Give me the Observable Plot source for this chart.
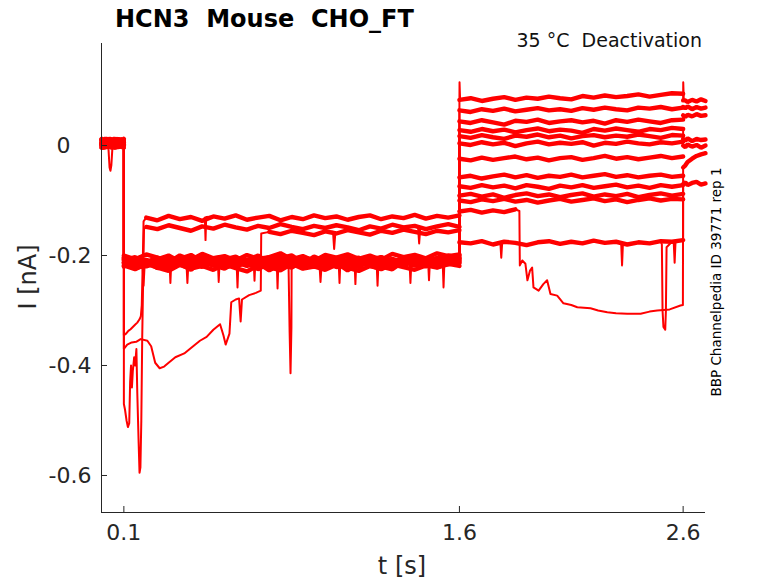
<!DOCTYPE html>
<html><head><meta charset="utf-8">
<script src="https://cdn.jsdelivr.net/npm/d3@7"></script>
<script src="https://cdn.jsdelivr.net/npm/@observablehq/plot@0.6"></script>
<style>body{margin:0;background:#fff}svg{display:block}</style>
</head><body><div id="chart"></div>
<script>
const xTicks=[0.1,1.6,2.6];
const yTicks=[0,-0.2,-0.4,-0.6];
const sweepNames=["s1","s2","s3","s4","s5","s6","s7","s8","s9","s10","X","Z","C"];
const tPre=[0,0.01,0.02,0.03,0.036,0.04,0.044,0.05,0.06,0.07,0.08,0.09,0.1];
const tAct=[0.1,0.15,0.2,0.25,0.3,0.35,0.4,0.45,0.5,0.55,0.6,0.65,0.7,0.75,0.8,0.85,0.9,0.95,1.0,1.05,1.1,1.15,1.2,1.25,1.3,1.35,1.4,1.45,1.5,1.55,1.6];
const tTest=[1.6,1.65,1.7,1.75,1.8,1.85,1.9,1.95,2.0,2.05,2.1,2.15,2.2,2.25,2.3,2.35,2.4,2.45,2.5,2.55,2.6];
const tTail=[2.6,2.61,2.62,2.64,2.66,2.68,2.7];

const preI=[
[0.004,0.012,-0.004,0.006,0.013,0.001,0.009,-0.005,0.01,0.003,0.012,-0.003,0.005],
[-0.004,0.005,0.012,0.0,0.004,0.011,-0.006,0.006,0.001,0.01,-0.004,0.009,0.003],
[0.01,0.001,0.006,0.014,-0.004,0.005,0.012,0.002,-0.006,0.006,0.013,0.003,0.0],
[0.001,-0.006,0.009,0.003,0.011,-0.003,0.004,0.013,0.005,-0.005,0.004,0.011,0.006],
[0.006,0.013,0.002,-0.005,0.007,0.014,0.001,0.005,0.012,-0.002,0.006,0.002,0.01],
[0.003,-0.002,0.011,0.005,-0.004,0.006,0.01,-0.003,0.004,0.014,0.002,0.005,-0.004],
[-0.003,0.009,0.003,0.012,0.004,-0.005,0.006,0.011,0.0,0.005,0.01,-0.005,0.004],
[0.005,0.002,0.013,-0.003,0.01,0.003,-0.004,0.007,0.014,0.002,-0.003,0.006,0.012],
[0.012,0.004,-0.005,0.01,0.002,0.007,0.013,-0.002,0.006,-0.004,0.011,0.004,0.001],
[0.002,0.01,0.005,-0.004,0.012,0.004,-0.002,0.011,-0.005,0.007,0.003,0.013,0.005],
[0.009,-0.003,0.004,0.011,0.003,0.012,0.005,0.001,0.009,0.004,-0.004,0.01,0.002],
[0.0,0.006,0.014,0.002,null,null,null,0.004,0.011,0.001,0.006,0.012,0.003],
[0.011,0.003,-0.002,0.007,0.014,0.002,-0.005,0.006,0.003,0.012,0.005,-0.002,0.007]
];

const actI=[
[-0.205,-0.214,-0.208,-0.219,-0.206,-0.211,-0.203,-0.216,-0.209,-0.213,-0.204,-0.218,-0.207,-0.212,-0.201,-0.215,-0.209,-0.206,-0.217,-0.204,-0.211,-0.208,-0.214,-0.203,-0.21,-0.207,-0.215,-0.205,-0.209,-0.202,-0.206],
[-0.212,-0.219,-0.21,-0.223,-0.214,-0.207,-0.22,-0.213,-0.218,-0.209,-0.221,-0.212,-0.216,-0.208,-0.222,-0.211,-0.217,-0.213,-0.209,-0.219,-0.214,-0.221,-0.21,-0.216,-0.212,-0.218,-0.209,-0.214,-0.207,-0.212,-0.208],
[-0.2,-0.207,-0.198,-0.204,-0.212,-0.2,-0.208,-0.197,-0.205,-0.201,-0.209,-0.199,-0.206,-0.203,-0.196,-0.207,-0.201,-0.21,-0.199,-0.204,-0.198,-0.206,-0.2,-0.208,-0.197,-0.203,-0.199,-0.205,-0.196,-0.201,-0.198],
[-0.218,-0.225,-0.215,-0.222,-0.228,-0.217,-0.224,-0.219,-0.226,-0.216,-0.223,-0.229,-0.218,-0.221,-0.227,-0.215,-0.224,-0.22,-0.226,-0.217,-0.222,-0.228,-0.219,-0.225,-0.216,-0.221,-0.226,-0.218,-0.222,-0.215,-0.219],
[-0.209,-0.203,-0.213,-0.207,-0.2,-0.211,-0.215,-0.205,-0.21,-0.217,-0.204,-0.209,-0.2,-0.214,-0.208,-0.212,-0.203,-0.209,-0.215,-0.206,-0.201,-0.212,-0.207,-0.203,-0.213,-0.209,-0.205,-0.211,-0.204,-0.208,-0.2],
[-0.215,-0.21,-0.22,-0.213,-0.224,-0.211,-0.218,-0.214,-0.209,-0.222,-0.216,-0.212,-0.225,-0.213,-0.219,-0.21,-0.223,-0.215,-0.212,-0.221,-0.217,-0.211,-0.219,-0.224,-0.213,-0.216,-0.211,-0.22,-0.213,-0.209,-0.214],
[-0.203,-0.209,-0.216,-0.204,-0.21,-0.206,-0.199,-0.211,-0.215,-0.207,-0.202,-0.213,-0.209,-0.216,-0.205,-0.2,-0.212,-0.207,-0.203,-0.214,-0.209,-0.216,-0.204,-0.211,-0.206,-0.213,-0.201,-0.208,-0.212,-0.205,-0.203],
[-0.22,-0.213,-0.208,-0.217,-0.221,-0.215,-0.226,-0.209,-0.218,-0.224,-0.212,-0.219,-0.214,-0.227,-0.216,-0.222,-0.21,-0.219,-0.223,-0.213,-0.227,-0.215,-0.21,-0.22,-0.225,-0.211,-0.218,-0.214,-0.221,-0.216,-0.212],
[-0.207,-0.216,-0.211,-0.205,-0.219,-0.208,-0.213,-0.221,-0.206,-0.214,-0.218,-0.207,-0.211,-0.203,-0.217,-0.212,-0.208,-0.22,-0.213,-0.206,-0.215,-0.21,-0.219,-0.207,-0.212,-0.204,-0.216,-0.21,-0.215,-0.206,-0.21],
[-0.213,-0.206,-0.218,-0.212,-0.207,-0.216,-0.21,-0.203,-0.214,-0.209,-0.216,-0.211,-0.205,-0.219,-0.21,-0.207,-0.215,-0.202,-0.211,-0.217,-0.208,-0.204,-0.213,-0.209,-0.218,-0.206,-0.21,-0.215,-0.208,-0.2,-0.205],
[null,null,-0.131,-0.136,-0.128,-0.134,-0.13,-0.137,-0.129,-0.133,-0.127,-0.135,-0.131,-0.128,-0.136,-0.13,-0.134,-0.127,-0.132,-0.129,-0.135,-0.13,-0.127,-0.134,-0.129,-0.132,-0.126,-0.133,-0.128,-0.131,-0.127],
[null,null,-0.148,-0.152,-0.145,-0.15,-0.155,-0.147,-0.151,-0.144,-0.149,-0.153,-0.146,-0.15,-0.143,-0.148,-0.152,-0.146,-0.15,-0.145,-0.149,-0.154,-0.147,-0.151,-0.144,-0.149,-0.146,-0.152,-0.147,-0.143,-0.148],
[null,null,null,null,null,null,null,null,null,null,null,null,null,-0.157,-0.161,-0.155,-0.159,-0.163,-0.156,-0.16,-0.154,-0.158,-0.162,-0.155,-0.159,-0.153,-0.157,-0.161,-0.155,-0.158,-0.154]
];

const testI=[
[0.083,0.086,0.081,0.085,0.088,0.083,0.087,0.085,0.089,0.086,0.084,0.09,0.087,0.091,0.088,0.09,0.093,0.089,0.092,0.095,0.094],
[0.064,0.061,0.066,0.063,0.067,0.062,0.065,0.068,0.064,0.066,0.063,0.068,0.065,0.069,0.066,0.064,0.069,0.067,0.07,0.066,0.069],
[0.044,0.041,0.046,0.042,0.038,0.045,0.043,0.047,0.041,0.044,0.046,0.042,0.045,0.04,0.046,0.043,0.047,0.044,0.041,0.046,0.047],
[0.028,0.025,0.03,0.026,0.029,0.024,0.028,0.031,0.026,0.029,0.027,0.023,0.03,0.027,0.031,0.028,0.025,0.03,0.028,0.032,0.03],
[0.017,0.014,0.019,0.015,0.012,0.018,0.016,0.02,0.015,0.018,0.013,0.017,0.019,0.015,0.018,0.016,0.02,0.017,0.014,0.019,0.018],
[0.004,0.001,0.006,0.002,0.005,-0.001,0.004,0.007,0.002,0.005,0.003,0.006,0.0,0.005,0.003,0.007,0.004,0.002,0.006,0.004,0.007],
[-0.024,-0.027,-0.022,-0.026,-0.023,-0.02,-0.025,-0.022,-0.027,-0.023,-0.021,-0.026,-0.023,-0.019,-0.024,-0.021,-0.025,-0.022,-0.019,-0.023,-0.02],
[-0.058,-0.055,-0.06,-0.056,-0.053,-0.058,-0.054,-0.059,-0.055,-0.057,-0.053,-0.058,-0.055,-0.052,-0.057,-0.054,-0.058,-0.055,-0.053,-0.057,-0.055],
[-0.074,-0.077,-0.072,-0.076,-0.073,-0.078,-0.072,-0.075,-0.079,-0.073,-0.076,-0.072,-0.077,-0.074,-0.071,-0.076,-0.073,-0.077,-0.072,-0.075,-0.072],
[-0.091,-0.088,-0.093,-0.089,-0.095,-0.09,-0.087,-0.092,-0.089,-0.094,-0.09,-0.087,-0.093,-0.089,-0.092,-0.088,-0.094,-0.09,-0.087,-0.091,-0.088],
[-0.12,-0.117,-0.122,-0.118,-0.121,-0.116,null,null,null,null,null,null,null,null,null,null,null,null,null,null,null],
[-0.176,-0.178,-0.174,-0.18,-0.175,-0.177,-0.181,-0.176,-0.174,-0.179,-0.175,-0.178,-0.173,-0.177,-0.175,-0.18,-0.176,-0.178,-0.174,-0.175,-0.172],
[-0.1,-0.103,-0.098,-0.101,-0.097,-0.102,-0.099,-0.104,-0.1,-0.097,-0.102,-0.099,-0.096,-0.101,-0.098,-0.103,-0.099,-0.096,-0.1,-0.097,-0.098]
];

const tailI=[
[0.082,0.082,0.079,0.083,0.08,0.084,0.081],
[0.07,0.068,0.071,0.066,0.07,0.067,0.069],
[0.055,0.052,0.056,0.053,0.057,0.054,0.055],
[0.012,0.009,0.013,0.008,0.012,0.01,0.011],
[0.0,-0.003,0.002,-0.002,0.001,-0.004,0.0],
null,null,null,null,null,
[-0.04,-0.036,-0.03,-0.024,-0.019,-0.016,-0.014],
[-0.07,-0.067,-0.072,-0.068,-0.066,-0.071,-0.069],
null
];

// [sweep index, t, I] — early transients after the step at 0.1 s
const earlyPts=[
[10,0.1,-0.345],[10,0.11,-0.342],[10,0.12,-0.337],[10,0.13,-0.334],[10,0.14,-0.33],[10,0.15,-0.326],[10,0.16,-0.322],[10,0.17,-0.316],[10,0.176,-0.31],[10,0.18,-0.29],[10,0.184,-0.22],[10,0.188,-0.138],
[11,0.1,-0.47],[11,0.105,-0.48],[11,0.112,-0.5],[11,0.118,-0.512],[11,0.124,-0.505],[11,0.128,-0.43],[11,0.132,-0.4],[11,0.136,-0.44],[11,0.14,-0.41],[11,0.146,-0.385],[11,0.15,-0.4],[11,0.156,-0.37],[11,0.16,-0.45],[11,0.166,-0.54],[11,0.17,-0.595],[11,0.174,-0.585],[11,0.178,-0.5],[11,0.182,-0.35],[11,0.186,-0.25],[11,0.19,-0.152],
[12,0.1,-0.37],[12,0.115,-0.362],[12,0.135,-0.358],[12,0.155,-0.357],[12,0.175,-0.352],[12,0.205,-0.355],[12,0.222,-0.365],[12,0.24,-0.395],[12,0.26,-0.405],[12,0.28,-0.402],[12,0.3,-0.395],[12,0.33,-0.385],[12,0.37,-0.378],[12,0.4,-0.368],[12,0.44,-0.355],[12,0.47,-0.348],[12,0.5,-0.335],[12,0.53,-0.325],[12,0.545,-0.345],[12,0.555,-0.362],[12,0.572,-0.342],[12,0.58,-0.285],[12,0.6,-0.28],[12,0.615,-0.278],[12,0.622,-0.32],[12,0.628,-0.28],[12,0.66,-0.272],[12,0.69,-0.268],[12,0.712,-0.264],[12,0.714,-0.16]
];

// [sweep index, t, I] — spikes, dips, capacitive transients and the slow decay
const extraPts=[
[11,0.036,-0.04],[11,0.04,-0.046],[11,0.044,-0.036],
[0,0.304,-0.209],[0,0.308,-0.25],[0,0.312,-0.21],[0,1.131,-0.208],[0,1.135,-0.252],[0,1.139,-0.21],[0,1.6005,0.115],[0,1.603,0.084],[0,2.6005,0.115],[0,2.603,0.083],
[1,0.604,-0.214],[1,0.608,-0.258],[1,0.612,-0.213],[1,1.377,-0.211],[1,1.381,-0.25],[1,1.385,-0.212],
[3,0.184,-0.222],[3,0.188,-0.255],[3,0.192,-0.223],[3,0.975,-0.22],[3,0.979,-0.248],[3,0.983,-0.222],
[4,0.783,-0.206],[4,0.787,-0.26],[4,0.791,-0.207],
[5,0.836,-0.216],[5,0.841,-0.34],[5,0.845,-0.414],[5,0.849,-0.33],[5,0.854,-0.214],
[6,0.52,-0.208],[6,0.524,-0.248],[6,0.528,-0.209],[6,1.46,-0.21],[6,1.464,-0.245],[6,1.468,-0.211],
[7,1.23,-0.214],[7,1.234,-0.255],[7,1.238,-0.215],[7,0.38,-0.216],[7,0.384,-0.25],[7,0.388,-0.217],
[8,1.525,-0.209],[8,1.529,-0.258],[8,1.533,-0.21],
[9,0.68,-0.206],[9,0.684,-0.246],[9,0.688,-0.207],[9,1.06,-0.21],[9,1.064,-0.25],[9,1.068,-0.208],
[10,0.462,-0.131],[10,0.465,-0.172],[10,0.468,-0.13],
[10,1.868,-0.119],[10,1.87,-0.218],[10,1.881,-0.209],[10,1.895,-0.215],[10,1.904,-0.245],[10,1.915,-0.228],[10,1.925,-0.222],[10,1.931,-0.258],[10,1.954,-0.264],[10,1.975,-0.252],[10,1.992,-0.245],[10,2.007,-0.27],[10,2.037,-0.273],[10,2.065,-0.287],[10,2.1,-0.29],[10,2.127,-0.294],[10,2.186,-0.296],[10,2.22,-0.3],[10,2.261,-0.303],[10,2.3,-0.305],[10,2.35,-0.306],[10,2.41,-0.306],[10,2.45,-0.302],[10,2.484,-0.3],[10,2.54,-0.298],[10,2.588,-0.291],[10,2.599,-0.29],
[11,1.415,-0.148],[11,1.42,-0.178],[11,1.425,-0.149],[11,1.783,-0.176],[11,1.787,-0.204],[11,1.791,-0.177],[11,2.323,-0.176],[11,2.327,-0.218],[11,2.331,-0.177],[11,2.505,-0.18],[11,2.508,-0.3],[11,2.512,-0.33],[11,2.52,-0.335],[11,2.523,-0.3],[11,2.526,-0.185],[11,2.558,-0.176],[11,2.562,-0.213],[11,2.566,-0.175],
[12,1.035,-0.157],[12,1.04,-0.188],[12,1.045,-0.16]
];

const rows=[];
sweepNames.forEach((name,k)=>{
  const pts=[];
  const add=(ts,vs,seg)=>{ if(!vs) return; ts.forEach((t,i)=>{ if(vs[i]!=null) pts.push([t,vs[i],seg]); }); };
  add(tPre,preI[k],"pre");
  earlyPts.filter(d=>d[0]===k).forEach(d=>pts.push([d[1],d[2],"x"]));
  add(tAct,actI[k],"act");
  add(tTest,testI[k],"test");
  add(tTail,tailI[k],"tail");
  extraPts.filter(d=>d[0]===k).forEach(d=>pts.push([d[1],d[2],"x"]));
  pts.sort((a,b)=>a[0]-b[0]);
  pts.forEach(p=>rows.push({sweep:name,t:p[0],I:p[1],seg:p[2]}));
});
const plateauRows=rows.filter(d=>d.seg!=="x");

const yMin=-0.6673, yMax=0.1855;
const axisColor="#262626";
const plot=Plot.plot({
  width:778,height:583,
  marginLeft:101,marginRight:73,marginTop:43,marginBottom:71,
  x:{domain:[0,2.7]},
  y:{domain:[yMin,yMax]},
  style:{fontFamily:"DejaVu Sans",color:axisColor,background:"#fff",overflow:"visible"},
  marks:[
    Plot.line(rows,{x:"t",y:"I",z:"sweep",stroke:"#ff0000",strokeWidth:2}),
    Plot.line(plateauRows,{x:"t",y:"I",z:d=>d.sweep+"-"+d.seg,stroke:"#ff0000",strokeWidth:4.4,strokeLinejoin:"miter"}),
    Plot.ruleX([0],{stroke:axisColor,strokeWidth:1}),
    Plot.ruleY([yMin],{stroke:axisColor,strokeWidth:1}),
    Plot.tickX(xTicks,{x:d=>d,insetTop:463,stroke:axisColor}),
    Plot.tickY(yTicks,{y:d=>d,insetRight:598,stroke:axisColor}),
    Plot.axisX(xTicks,{tickSize:0,tickPadding:12,fontSize:22,label:null,tickFormat:d=>String(d)}),
    Plot.axisY(yTicks,{tickSize:0,tickPadding:10,fontSize:22,label:null,tickFormat:d=>d===0?"0\u2007\u2008":d.toFixed(1)})
  ]
});
document.getElementById("chart").appendChild(plot);
const svg=d3.select(plot);
svg.append("text").attr("x",115).attr("y",27).attr("font-size",24).attr("font-weight","bold")
  .attr("text-anchor","start").attr("fill","#000").style("white-space","pre").text("HCN3  Mouse  CHO_FT");
svg.append("text").attr("x",702).attr("y",47).attr("font-size",19).attr("text-anchor","end")
  .attr("fill","#111").style("white-space","pre").text("35 °C  Deactivation");
svg.append("text").attr("transform","translate(716,282) rotate(-90)").attr("dy","0.35em")
  .attr("font-size",13.5).attr("text-anchor","middle").attr("fill","#000").text("BBP Channelpedia ID 39771 rep 1");
svg.append("text").attr("x",402).attr("y",574).attr("font-size",24).attr("text-anchor","middle")
  .attr("fill",axisColor).text("t [s]");
svg.append("text").attr("transform","translate(36,277) rotate(-90)").attr("font-size",24)
  .attr("text-anchor","middle").attr("fill",axisColor).text("I [nA]");
</script></body></html>
